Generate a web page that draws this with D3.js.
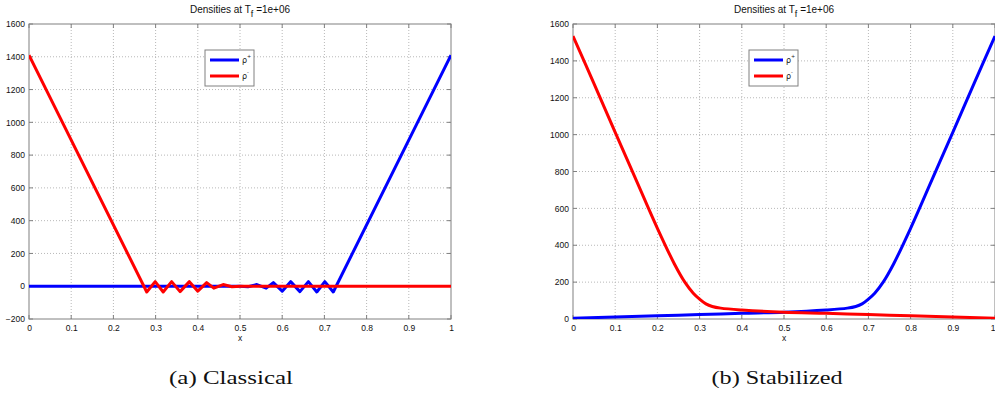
<!DOCTYPE html>
<html><head><meta charset="utf-8">
<script src="https://cdn.jsdelivr.net/npm/d3@7"></script>
<style>body{margin:0;background:#fff}svg{display:block}</style>
</head><body>
<svg id="c" width="995" height="398"></svg>
<script>
// ---- data ----
const xTicks = [0,0.1,0.2,0.3,0.4,0.5,0.6,0.7,0.8,0.9,1];
const xTickLabels = ["0","0.1","0.2","0.3","0.4","0.5","0.6","0.7","0.8","0.9","1"];
const yTicksClassical = [-200,0,200,400,600,800,1000,1200,1400,1600];
const yTicksStabilized = [0,200,400,600,800,1000,1200,1400,1600];

const classicalPlusX = [0,0.5,0.519,0.540,0.562,0.579,0.600,0.620,0.642,0.662,0.682,0.701,0.721,1];
const classicalPlusY = [0,0,-3,10,-12,22,-30,28,-33,28,-35,28,-35,1410];
const classicalMinusX = [0,0.279,0.299,0.318,0.338,0.358,0.380,0.400,0.421,0.438,0.460,0.481,0.5,1];
const classicalMinusY = [1410,-35,28,-35,28,-33,28,-30,22,-12,10,-3,0,0];

const stabPlusX = [0,0.1,0.2,0.3,0.4,0.5,0.6,0.65,0.67,0.685,0.7,0.715,0.735,0.76,0.8,0.85,0.9,0.95,1];
const stabPlusY = [4,11,18,24,31,37,49,59,68,82,108,140,200,300,492,752,1012,1275,1535];
const stabMinusX = [0,0.05,0.1,0.15,0.2,0.24,0.265,0.285,0.3,0.315,0.33,0.35,0.4,0.5,0.6,0.7,0.8,0.9,1];
const stabMinusY = [1535,1275,1012,752,492,300,200,140,108,82,68,59,49,37,31,24,18,11,4];

const titleText = "Densities at T";
const legendLabels = ["+","-"];
const captions = ["(a) Classical","(b) Stabilized"];

const svg = d3.select("#c");
const FONT = "'Liberation Sans', Arial, sans-serif";

function panel(cfg){
  const x = d3.scaleLinear().domain([0,1]).range([cfg.x0, cfg.x1]);
  const y = d3.scaleLinear().domain(cfg.yDomain).range([cfg.yb, cfg.yt]);
  const g = svg.append("g");
  const clipId = "clip"+cfg.id;
  svg.append("clipPath").attr("id",clipId).append("rect")
    .attr("x",cfg.x0).attr("y",cfg.yt).attr("width",cfg.x1-cfg.x0).attr("height",cfg.yb-cfg.yt);
  // grid
  g.selectAll(".gx").data(xTicks.slice(1,-1)).join("line")
    .attr("x1",d=>x(d)).attr("x2",d=>x(d)).attr("y1",cfg.yt).attr("y2",cfg.yb)
    .attr("stroke","#b8b8b8").attr("stroke-width",1).attr("stroke-dasharray","1,2");
  g.selectAll(".gy").data(cfg.yTicks.slice(1,-1)).join("line")
    .attr("y1",d=>y(d)).attr("y2",d=>y(d)).attr("x1",cfg.x0).attr("x2",cfg.x1)
    .attr("stroke","#b8b8b8").attr("stroke-width",1).attr("stroke-dasharray","1,2");
  // axes labels
  const xAxis = d3.axisBottom(x).tickValues(xTicks).tickFormat((d,i)=>xTickLabels[i]).tickSize(0).tickPadding(6);
  const ax = g.append("g").attr("transform",`translate(0,${cfg.yb})`).call(xAxis);
  ax.select(".domain").remove();
  ax.selectAll("text").attr("font-family",FONT).attr("font-size",8.5).attr("fill","#111");
  if (cfg.x1 >= 995) {
    ax.selectAll("text").filter(d=>d===1).attr("text-anchor","end").attr("dx",0);
  }
  const yAxis = d3.axisLeft(y).tickValues(cfg.yTicks).tickSize(0).tickPadding(4).tickFormat(d3.format("d"));
  const ay = g.append("g").attr("transform",`translate(${cfg.x0},0)`).call(yAxis);
  ay.select(".domain").remove();
  ay.selectAll("text").attr("font-family",FONT).attr("font-size",8.5).attr("fill","#111");
  // inward ticks
  const tk = 4;
  g.selectAll(".tb").data(xTicks).join("line")
    .attr("x1",d=>x(d)).attr("x2",d=>x(d)).attr("y1",cfg.yb).attr("y2",cfg.yb-tk).attr("stroke","#808080");
  g.selectAll(".tt").data(xTicks).join("line")
    .attr("x1",d=>x(d)).attr("x2",d=>x(d)).attr("y1",cfg.yt).attr("y2",cfg.yt+tk).attr("stroke","#808080");
  g.selectAll(".tl").data(cfg.yTicks).join("line")
    .attr("y1",d=>y(d)).attr("y2",d=>y(d)).attr("x1",cfg.x0).attr("x2",cfg.x0+tk).attr("stroke","#808080");
  g.selectAll(".tr").data(cfg.yTicks).join("line")
    .attr("y1",d=>y(d)).attr("y2",d=>y(d)).attr("x1",cfg.x1).attr("x2",cfg.x1-tk).attr("stroke","#808080");
  // box
  g.append("rect").attr("x",cfg.x0).attr("y",cfg.yt).attr("width",cfg.x1-cfg.x0).attr("height",cfg.yb-cfg.yt)
    .attr("fill","none").attr("stroke","#808080").attr("stroke-width",1);
  // lines
  const line = d3.line().x(d=>x(d[0])).y(d=>y(d[1])).curve(cfg.curve);
  const plus = cfg.px.map((v,i)=>[v,cfg.py[i]]);
  const minus = cfg.mx.map((v,i)=>[v,cfg.my[i]]);
  const lg = g.append("g").attr("clip-path",`url(#${clipId})`);
  lg.append("path").attr("d",line(plus)).attr("fill","none").attr("stroke","#0000ff").attr("stroke-width",3).attr("stroke-linejoin","round");
  lg.append("path").attr("d",line(minus)).attr("fill","none").attr("stroke","#ff0000").attr("stroke-width",3).attr("stroke-linejoin","round");
  // title
  const cx = (cfg.x0+cfg.x1)/2;
  const t = g.append("text").attr("x",cx).attr("y",13).attr("text-anchor","middle")
    .attr("font-family",FONT).attr("font-size",10).attr("fill","#111");
  t.append("tspan").text(titleText);
  t.append("tspan").attr("font-size",9).attr("dy",4).text("f");
  t.append("tspan").attr("dy",-4).text(" =1e+06");
  // x label
  g.append("text").attr("x",cx).attr("y",341).attr("text-anchor","middle")
    .attr("font-family",FONT).attr("font-size",8.5).attr("fill","#111").text("x");
  // legend
  const L = cfg.legend;
  g.append("rect").attr("x",L.x).attr("y",50).attr("width",49).attr("height",36)
    .attr("fill","#fff").attr("stroke","#808080").attr("stroke-width",1);
  [["#0000ff",60],["#ff0000",76]].forEach((c,i)=>{
    g.append("line").attr("x1",L.x+5).attr("x2",L.x+34).attr("y1",c[1]).attr("y2",c[1])
      .attr("stroke",c[0]).attr("stroke-width",3);
    const lt = g.append("text").attr("x",L.x+37).attr("y",c[1]+3)
      .attr("font-family","'DejaVu Sans', sans-serif").attr("font-size",8).attr("fill","#222");
    lt.append("tspan").text("ρ");
    lt.append("tspan").attr("font-size",5).attr("dy",-5).text(legendLabels[i]);
  });
  // caption
  svg.append("text").attr("x",cfg.capX).attr("y",384).attr("text-anchor","middle")
    .attr("font-family","'Liberation Serif', 'DejaVu Serif', serif").attr("font-size",19)
    .attr("fill","#111").attr("textLength",cfg.capW).attr("lengthAdjust","spacingAndGlyphs")
    .text(cfg.caption);
}

panel({id:"a",x0:29,x1:451,yt:24,yb:319,yDomain:[-200,1600],yTicks:yTicksClassical,
  px:classicalPlusX,py:classicalPlusY,mx:classicalMinusX,my:classicalMinusY,curve:d3.curveLinear,
  legend:{x:205},caption:captions[0],capX:231,capW:124});
panel({id:"b",x0:573,x1:995,yt:24,yb:319,yDomain:[0,1600],yTicks:yTicksStabilized,
  px:stabPlusX,py:stabPlusY,mx:stabMinusX,my:stabMinusY,curve:d3.curveCatmullRom.alpha(0.5),
  legend:{x:749},caption:captions[1],capX:777,capW:131});
</script>
</body></html>
